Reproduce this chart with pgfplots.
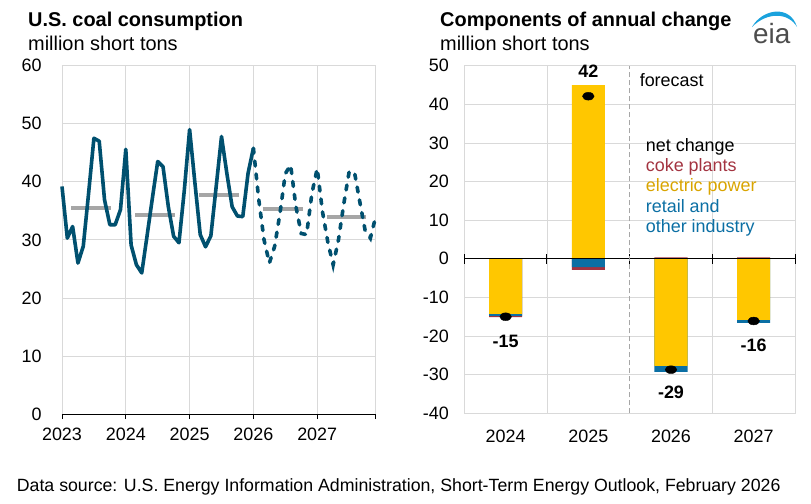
\documentclass[border=0pt]{standalone}
\usepackage{pgfplots}
\pgfplotsset{compat=1.18}
\usepackage{fontspec}
\setmainfont{Liberation Sans}

\definecolor{coalline}{HTML}{00506F}
\definecolor{avggray}{HTML}{A6A6A6}
\definecolor{gridgray}{HTML}{D9D9D9}
\definecolor{elecyellow}{HTML}{FFC700}
\definecolor{retailblue}{HTML}{0B6FA4}
\definecolor{cokered}{HTML}{A33340}
\definecolor{electext}{HTML}{D9A400}
\definecolor{eiablue}{HTML}{1AA2DD}
\definecolor{eiagray}{HTML}{4D4D4D}

\newcommand{\ticksize}{\fontsize{18}{20}\selectfont}
\newcommand{\titlesize}{\fontsize{20}{22}\selectfont}

% monthly consumption, month 0 = Jan 2023
\pgfplotstableread{
m val
0 39.2
1 30.3
2 32.3
3 26.0
4 28.9
5 38.0
6 47.5
7 47.0
8 36.9
9 32.6
10 32.6
11 35.2
12 45.6
13 29.1
14 25.7
15 24.3
16 30.7
17 37.2
18 43.5
19 42.6
20 35.7
21 30.6
22 29.5
23 38.5
24 49.0
25 39.8
26 30.9
27 28.8
28 30.7
29 39.2
30 47.8
31 41.5
32 35.7
33 34.1
34 34.0
35 41.5
36 45.8
}\history

\pgfplotstableread{
m val
36 45.8
37 37.0
38 30.0
39 26.0
40 28.9
41 34.6
42 41.4
43 42.9
44 35.7
45 31.1
46 30.9
47 38.0
48 42.3
49 34.8
50 29.6
51 25.7
52 30.0
53 36.2
54 41.7
55 41.7
56 36.6
57 31.7
58 30.3
59 34.0
}\forecast

% annual averages
\pgfplotstableread{
m val
1.75 35.5
9.25 35.5
9.5 nan
13.75 34.25
21.25 34.25
21.5 nan
25.75 37.75
33.25 37.75
33.5 nan
37.75 35.33
45.25 35.33
45.5 nan
49.75 34.0
57.25 34.0
}\annual

\pgfplotsset{
  eiaaxis/.style={
    scale only axis, anchor=north west,
    axis line style={gridgray, line width=0.8bp},
    grid style={gridgray, line width=0.8bp},
    tick label style={font=\ticksize},
    /pgf/number format/assume math mode=true,
    ytick style={draw=none},
    yticklabel style={xshift=-12bp},
    clip=false,
  }
}

\begin{document}
\begin{tikzpicture}
\path[use as bounding box] (0,0) rectangle (811bp,-504bp);

% left panel
\begin{axis}[eiaaxis, at={(62bp,-65.7bp)}, width=313.7bp, height=348.3bp,
  xmin=0, xmax=59, ymin=0, ymax=60, ytick={0,10,...,60},
  xtick={0,12,24,36,48}, xticklabels={2023,2024,2025,2026,2027},
  extra x ticks={59}, extra x tick labels={},
  grid=major, xtick pos=left, tick align=outside, major tick length=5bp,
  xtick style={black, line width=0.8bp},
  xticklabel style={yshift=-5bp},
]
\addplot[avggray, line width=4bp, unbounded coords=jump] table[x=m, y=val] {\annual};
\addplot[coalline, line width=3.6bp, line join=round] table[x=m, y=val] {\history};
\addplot[coalline, line width=3.6bp, line cap=round, dash pattern=on 5bp off 8bp] table[x=m, y=val] {\forecast};
\draw[black, line width=1bp] (axis cs:0,0) -- (axis cs:59,0);
\end{axis}

% right panel: segments are cumulative ends, drawn back to front
\begin{axis}[eiaaxis, at={(464.3bp,-65.7bp)}, width=330.7bp, height=347.6bp,
  xmin=-0.5, xmax=3.5, ymin=-40, ymax=50, ytick={-40,-30,...,50},
  xtick={0,1,2,3}, xticklabels={2024,2025,2026,2027}, xtick style={draw=none},
  xticklabel style={yshift=-13bp},
  ymajorgrids,
  extra x ticks={0.5,2.5}, extra x tick labels={},
  extra x tick style={xmajorgrids=true, major tick length=0pt},
]
\addplot[ybar, bar width=0.4, bar shift=0pt, fill=cokered, draw=none]
  coordinates {(0,-15.1) (1,-2.85) (2,0.35) (3,0.35)};
\addplot[ybar, bar width=0.4, bar shift=0pt, fill=retailblue, draw=none]
  coordinates {(0,-14.75) (1,-2.15) (2,-29.3) (3,-16.6)};
\addplot[ybar, bar width=0.4, bar shift=0pt, fill=elecyellow, draw=none]
  coordinates {(0,-14.25) (1,45.0) (2,-27.7) (3,-15.8)};
\draw[black, line width=1.2bp] (axis cs:-0.5,0) -- (axis cs:3.5,0);
\draw[black, line width=1bp]
  (axis cs:-0.5,-1.3) -- (axis cs:-0.5,1.3)
  (axis cs:0.5,-1.3) -- (axis cs:0.5,1.3)
  (axis cs:1.5,-1.3) -- (axis cs:1.5,1.3)
  (axis cs:2.5,-1.3) -- (axis cs:2.5,1.3)
  (axis cs:3.5,-1.3) -- (axis cs:3.5,1.3);
\draw[avggray, line width=1bp, dash pattern=on 5bp off 3bp] (axis cs:1.5,-40) -- (axis cs:1.5,50);
\addplot[only marks, mark=*, mark size=3.9bp, mark options={black, xscale=1.5}]
  coordinates {(0,-15.0) (1,42.1) (2,-28.7) (3,-16.1)};
\addplot[only marks, mark=none, nodes near coords, point meta=explicit symbolic,
  every node near coord/.append style={anchor=center, font=\bfseries\ticksize}]
  coordinates {(0,-21.5)[-15] (1,48.5)[42] (2,-34.6)[-29] (3,-22.5)[-16]};
\node[anchor=west, font=\ticksize] at (axis cs:1.58,46.4) {forecast};
\end{axis}

% legend text
\begin{scope}[every node/.style={anchor=base west, font=\ticksize, inner sep=0pt}]
\node[black] at (645.7bp,-151bp) {net change};
\node[cokered] at (645.7bp,-171.4bp) {coke plants};
\node[electext] at (645.7bp,-191.8bp) {electric power};
\node[retailblue] at (645.7bp,-212.2bp) {retail and};
\node[retailblue] at (645.7bp,-232.6bp) {other industry};
\end{scope}

% titles
\begin{scope}[every node/.style={anchor=base west, inner sep=0pt}]
\node[font=\titlesize\bfseries] at (28bp,-26.7bp) {U.S. coal consumption};
\node[font=\titlesize] at (28bp,-50bp) {million short tons};
\node[font=\titlesize\bfseries] at (440bp,-26.7bp) {Components of annual change};
\node[font=\titlesize] at (440bp,-50bp) {million short tons};
\node[font=\fontsize{17.8}{19}\selectfont] at (16.7bp,-491.7bp)
  {Data source: U.S. Energy Information Administration, Short-Term Energy Outlook, February 2026};
\end{scope}

% eia logo
\fill[eiablue] (752bp,-27bp) .. controls (762bp,-9bp) and (790bp,-4bp) .. (797bp,-27bp)
  .. controls (789bp,-13bp) and (768bp,-11bp) .. cycle;
\node[anchor=base west, inner sep=0pt, text=eiagray, font=\fontsize{28}{30}\selectfont] at (753bp,-43.5bp) {eia};
\end{tikzpicture}
\end{document}
